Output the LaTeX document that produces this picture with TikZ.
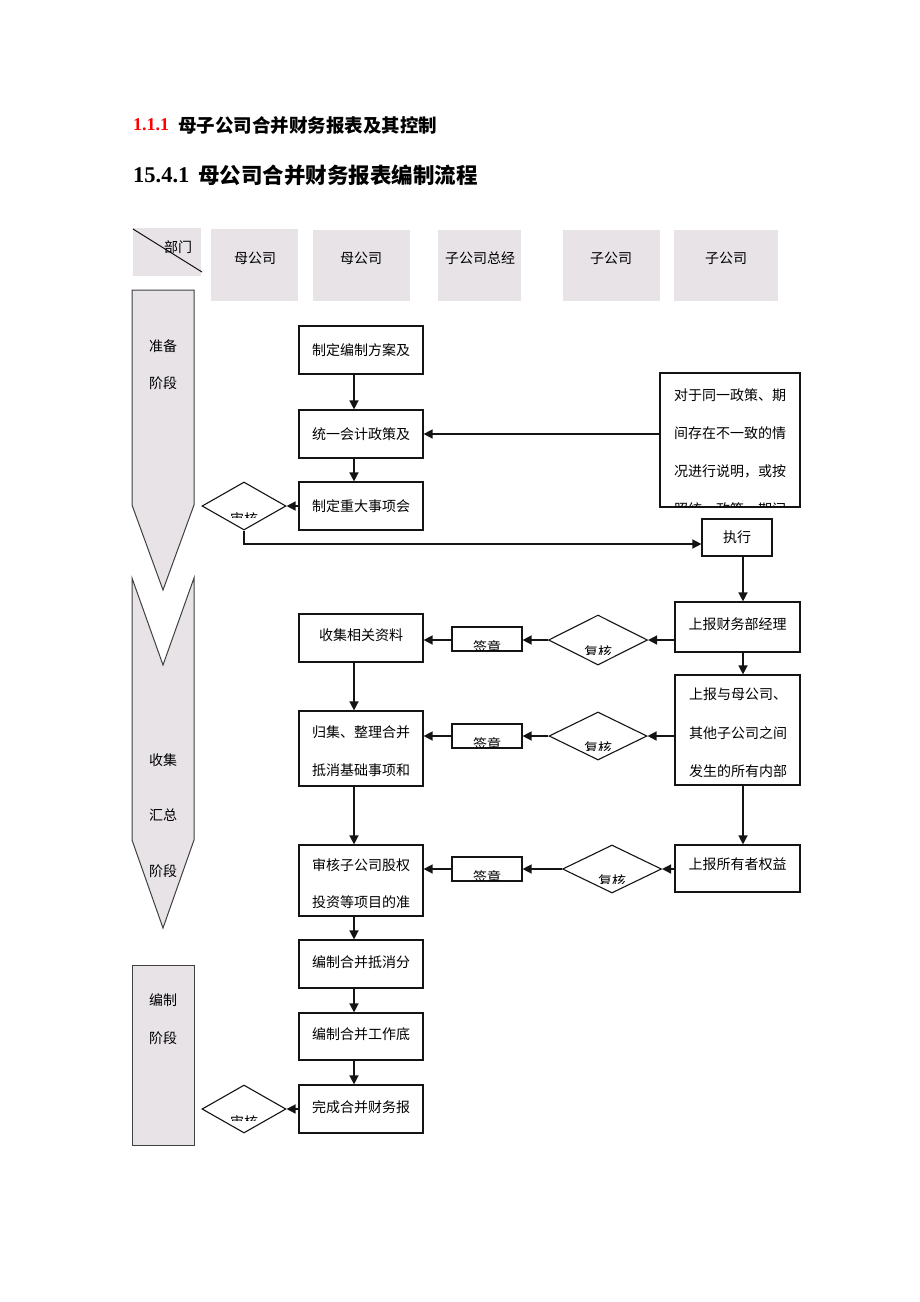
\documentclass[tikz,border=0pt]{standalone}
\usepackage{fontspec}
\setmainfont{Liberation Serif}
\newfontfamily\cjk{Noto Sans CJK SC}
\usetikzlibrary{arrows.meta,shapes.geometric,calc}
\definecolor{gfill}{RGB}{231,227,231}
\definecolor{ink}{RGB}{20,20,20}
\begin{document}
\begin{tikzpicture}[x=1pt,y=-1pt,
  box/.style={draw=ink, line width=1.2pt, fill=white, inner sep=0pt, font=\cjk\fontsize{14}{16}\selectfont},
  lbl/.style={inner sep=0pt, font=\cjk\fontsize{14}{16}\selectfont},
  arr/.style={draw=ink, line width=1.5pt, -{Triangle[length=9pt,width=9pt]}},
  dia/.style={draw=ink, diamond, line width=1.1pt, inner sep=0pt, fill=white},
  stage/.style={draw=black!75, line width=1pt, fill=gfill},
  hfill/.style={fill=gfill}]
\useasboundingbox (0,0) rectangle (920,1302);
\fill[white] (0,0) rectangle (920,1302);

% headings
\node[anchor=west, inner sep=0pt, text=red, font=\bfseries\fontsize{18}{20}\selectfont] (h1n) at (133,125) {1.1.1};
\node[anchor=west, inner sep=0pt, font=\cjk\bfseries\fontsize{18.5}{20}\selectfont] (h1t) at (178,125) {母子公司合并财务报表及其控制};
\node[anchor=west, inner sep=0pt, font=\bfseries\fontsize{22.5}{24}\selectfont] (h2n) at (133,175) {15.4.1};
\node[anchor=west, inner sep=0pt, font=\cjk\bfseries\fontsize{21.5}{24}\selectfont] (h2t) at (198,175) {母公司合并财务报表编制流程};

% header row
\path[hfill] (133,228) rectangle (201,276);
\draw[ink, line width=1pt] (133,229) -- (202,272);
\node[lbl] (hdept) at (178,247) {部门};
\path[hfill] (211,229) rectangle (298,301);
\path[hfill] (313,230) rectangle (410,301);
\path[hfill] (438,230) rectangle (521,301);
\path[hfill] (563,230) rectangle (660,301);
\path[hfill] (674,230) rectangle (778,301);
\node[lbl] (tA) at (255,258) {母公司};
\node[lbl] (tB) at (361,258) {母公司};
\node[lbl] (tC) at (480,258) {子公司总经};
\node[lbl] (tD) at (611,258) {子公司};
\node[lbl] (tE) at (726,258) {子公司};

% stage shapes
\path[stage] (132,290) -- (194,290) -- (194,505) -- (163,590) -- (132,505) -- cycle;
\node[lbl] (s1a) at (163,346) {准备};
\node[lbl] (s1b) at (163,383) {阶段};
\path[stage] (132,578) -- (163,665) -- (194,578) -- (194,840) -- (163,928) -- (132,840) -- cycle;
\node[lbl] (s2a) at (163,760) {收集};
\node[lbl] (s2b) at (163,815) {汇总};
\node[lbl] (s2c) at (163,871) {阶段};
\path[stage] (132,965) rectangle (194,1145);
\node[lbl] (s3a) at (163,1000) {编制};
\node[lbl] (s3b) at (163,1038) {阶段};

% middle column boxes
\node[box, minimum width=124pt, minimum height=48pt] (b1) at (361,350) {制定编制方案及};
\node[box, minimum width=124pt, minimum height=48pt] (b2) at (361,434) {统一会计政策及};
\node[box, minimum width=124pt, minimum height=48pt] (b3) at (361,506) {制定重大事项会};
\node[box, minimum width=124pt, minimum height=48pt] (c1) at (361,638) {};
\node[lbl] (c1t) at (361,635) {收集相关资料};
\node[box, minimum width=124pt, minimum height=75pt] (c2) at (361,748.5) {};
\node[lbl] (c2a) at (361,732) {归集、整理合并};
\node[lbl] (c2b) at (361,770) {抵消基础事项和};
\node[box, minimum width=124pt, minimum height=71pt] (c3) at (361,880.5) {};
\node[lbl] (c3a) at (361,865) {审核子公司股权};
\node[lbl] (c3b) at (361,902) {投资等项目的准};
\node[box, minimum width=124pt, minimum height=48pt] (c4) at (361,964) {};
\node[lbl] (c4t) at (361,962) {编制合并抵消分};
\node[box, minimum width=124pt, minimum height=47pt] (c5) at (361,1036.5) {};
\node[lbl] (c5t) at (361,1034) {编制合并工作底};
\node[box, minimum width=124pt, minimum height=48pt] (c6) at (361,1109) {};
\node[lbl] (c6t) at (361,1107) {完成合并财务报};

% diamonds (审核)
\node[dia, minimum width=84pt, minimum height=48pt] (d1) at (244,506) {};
\begin{scope}\clip (205,490) rectangle (283,517);
\node[lbl] (d1t) at (244,519) {审核};\end{scope}
\node[dia, minimum width=84pt, minimum height=48pt] (d5) at (244,1109) {};
\begin{scope}\clip (205,1093) rectangle (283,1120);
\node[lbl] (d5t) at (244,1122) {审核};\end{scope}

% note box
\node[box, minimum width=140pt, minimum height=134pt] (note) at (730,440) {};
\begin{scope}\clip (661,374) rectangle (799,506.5);
\node[lbl, anchor=west] (n1) at (674,395) {对于同一政策、期};
\node[lbl, anchor=west] (n2) at (674,433) {间存在不一致的情};
\node[lbl, anchor=west] (n3) at (674,471) {况进行说明，或按};
\node[lbl, anchor=west] (n4) at (674,509) {照统一政策、期间};
\end{scope}

% right column
\node[box, minimum width=70pt, minimum height=37pt] (ex) at (737,537.5) {执行};
\node[box, minimum width=125pt, minimum height=50pt] (r1) at (737.5,627) {};
\node[lbl] (r1t) at (737.5,624) {上报财务部经理};
\node[box, minimum width=125pt, minimum height=110pt] (r2) at (737.5,730) {};
\node[lbl, anchor=west] (r2a) at (689,694) {上报与母公司、};
\node[lbl, anchor=west] (r2b) at (689,733) {其他子公司之间};
\node[lbl, anchor=west] (r2c) at (689,771) {发生的所有内部};
\node[box, minimum width=125pt, minimum height=47pt] (r3) at (737.5,868.5) {};
\node[lbl] (r3t) at (737.5,864) {上报所有者权益};

% review diamonds (复核)
\node[dia, minimum width=99pt, minimum height=50pt] (q1) at (598,640) {};
\begin{scope}\clip (560,620) rectangle (636,654);
\node[lbl] (q1t) at (598,652) {复核};\end{scope}
\node[dia, minimum width=98pt, minimum height=48pt] (q2) at (598,736) {};
\begin{scope}\clip (560,716) rectangle (636,750);
\node[lbl] (q2t) at (598,748) {复核};\end{scope}
\node[dia, minimum width=99pt, minimum height=48pt] (q3) at (612,869) {};
\begin{scope}\clip (574,850) rectangle (650,883);
\node[lbl] (q3t) at (612,881) {复核};\end{scope}

% seal boxes (签章)
\node[box, minimum width=70pt, minimum height=24pt] (g1) at (487,639) {};
\begin{scope}\clip (453,628) rectangle (521,650);
\node[lbl] (g1t) at (487,647) {签章};\end{scope}
\node[box, minimum width=70pt, minimum height=24pt] (g2) at (487,736) {};
\begin{scope}\clip (453,725) rectangle (521,747);
\node[lbl] (g2t) at (487,744) {签章};\end{scope}
\node[box, minimum width=70pt, minimum height=24pt] (g3) at (487,869) {};
\begin{scope}\clip (453,858) rectangle (521,880);
\node[lbl] (g3t) at (487,877) {签章};\end{scope}

% connectors: middle column
\draw[arr] ($(b1.south)+(-7,0)$) -- ($(b2.north)+(-7,0)$);
\draw[arr] ($(b2.south)+(-7,0)$) -- ($(b3.north)+(-7,0)$);
\draw[arr] (b3.west) -- (d1.east);
\draw[arr] (note.west |- b2.east) -- (b2.east);
\draw[arr] (d1.south) |- ($(ex.west)+(0,6.5)$);
\draw[arr] ($(c1.south)+(-7,0)$) -- ($(c2.north)+(-7,0)$);
\draw[arr] ($(c2.south)+(-7,0)$) -- ($(c3.north)+(-7,0)$);
\draw[arr] ($(c3.south)+(-7,0)$) -- ($(c4.north)+(-7,0)$);
\draw[arr] ($(c4.south)+(-7,0)$) -- ($(c5.north)+(-7,0)$);
\draw[arr] ($(c5.south)+(-7,0)$) -- ($(c6.north)+(-7,0)$);
\draw[arr] (c6.west) -- (d5.east);

% connectors: right column
\draw[arr] ($(ex.south)+(6,0)$) -- ($(r1.north)+(5.5,0)$);
\draw[arr] ($(r1.south)+(5.5,0)$) -- ($(r2.north)+(5.5,0)$);
\draw[arr] ($(r2.south)+(5.5,0)$) -- ($(r3.north)+(5.5,0)$);

% review chains
\draw[arr] (r1.west |- q1.east) -- (q1.east);
\draw[arr] (q1.west) -- (g1.east |- q1.west);
\draw[arr] (g1.west |- q1.west) -- (c1.east |- q1.west);
\draw[arr] (r2.west |- q2.east) -- (q2.east);
\draw[arr] (q2.west) -- (g2.east);
\draw[arr] (g2.west) -- (c2.east |- g2.west);
\draw[arr] (r3.west |- q3.east) -- (q3.east);
\draw[arr] (q3.west) -- (g3.east);
\draw[arr] (g3.west) -- (c3.east |- g3.west);
\end{tikzpicture}
\end{document}
